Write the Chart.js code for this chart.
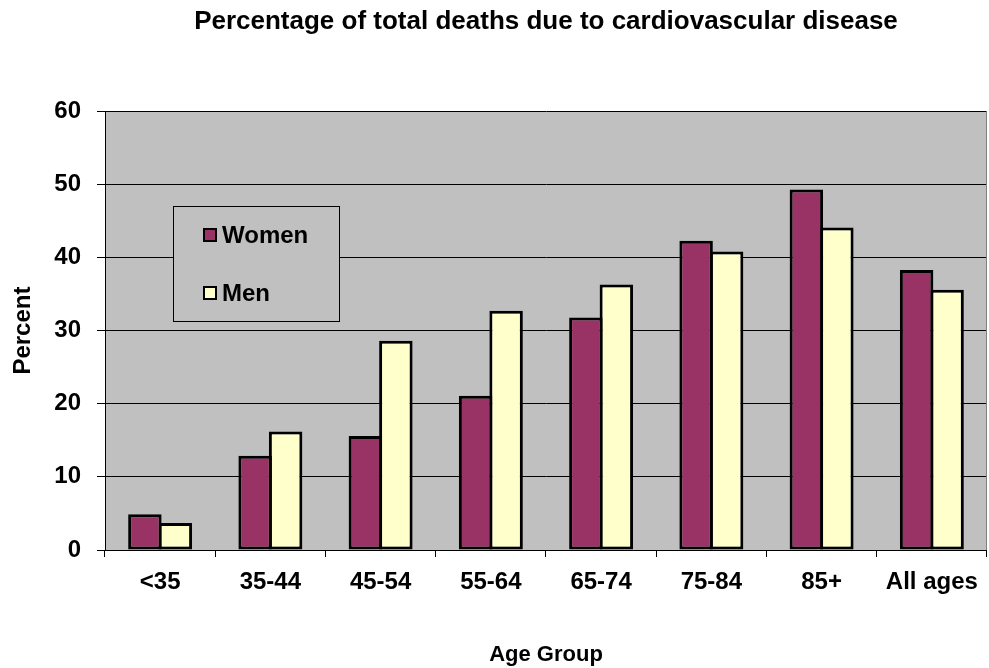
<!DOCTYPE html>
<html>
<head>
<meta charset="utf-8">
<script src="https://cdn.jsdelivr.net/npm/chart.js@4/dist/chart.umd.min.js"></script>
<style>
html,body{margin:0;padding:0;background:#fff;}
#wrap{width:989px;height:668px;position:relative;}
</style>
</head>
<body>
<div id="wrap"><canvas id="c" width="989" height="668"></canvas></div>
<script>
const categories = ['<35', '35-44', '45-54', '55-64', '65-74', '75-84', '85+', 'All ages'];
const women = [4.9, 12.9, 15.6, 21.1, 31.8, 42.3, 49.3, 38.3];
const men = [3.7, 16.2, 28.6, 32.7, 36.3, 40.8, 44.1, 35.6];
const seriesNames = ['Women', 'Men'];
const titleText = 'Percentage of total deaths due to cardiovascular disease';
const xTitle = 'Age Group';
const yTitle = 'Percent';

const FONT = 'Arial, "Liberation Sans", sans-serif';

const plotBg = {
  id: 'plotBg',
  beforeDraw(chart) {
    const {ctx, chartArea: a} = chart;
    ctx.save();
    ctx.fillStyle = '#C0C0C0';
    ctx.fillRect(a.left, a.top, a.right - a.left, a.bottom - a.top);
    ctx.restore();
  },
  afterDatasetsDraw(chart) {
    const {ctx, chartArea: a} = chart;
    ctx.save();
    ctx.strokeStyle = '#808080';
    ctx.lineWidth = 1;
    ctx.beginPath();
    ctx.moveTo(a.right - 0.5, a.top);
    ctx.lineTo(a.right - 0.5, a.bottom);
    ctx.stroke();
    ctx.restore();
  }
};

const boxLegend = {
  id: 'boxLegend',
  afterDraw(chart) {
    const ctx = chart.ctx;
    const x0 = 173, y0 = 206, w = 166, h = 115;
    ctx.save();
    ctx.fillStyle = '#C0C0C0';
    ctx.fillRect(x0, y0, w, h);
    ctx.strokeStyle = '#000';
    ctx.lineWidth = 1;
    ctx.strokeRect(x0 + 0.5, y0 + 0.5, w, h);
    const rows = [235, 293];
    chart.data.datasets.forEach((ds, i) => {
      const cy = rows[i];
      ctx.fillStyle = ds.backgroundColor;
      ctx.fillRect(204, cy - 6, 12, 12);
      ctx.strokeStyle = '#000';
      ctx.lineWidth = 2;
      ctx.strokeRect(204, cy - 6, 12, 12);
      ctx.fillStyle = '#000';
      ctx.font = 'bold 24px ' + FONT;
      ctx.textBaseline = 'middle';
      ctx.textAlign = 'left';
      ctx.fillText(ds.label, 222, cy + 1);
    });
    ctx.restore();
  }
};

new Chart(document.getElementById('c'), {
  type: 'bar',
  data: {
    labels: categories,
    datasets: [
      {label: seriesNames[0], data: women, backgroundColor: '#993366', borderColor: '#000', borderWidth: 3, borderSkipped: false},
      {label: seriesNames[1], data: men, backgroundColor: '#FFFFCC', borderColor: '#000', borderWidth: 3, borderSkipped: false}
    ]
  },
  options: {
    responsive: false,
    animation: false,
    layout: {padding: {left: 0, right: 1, top: 0, bottom: 0}},
    datasets: {bar: {categoryPercentage: 0.553, barPercentage: 1.098}},
    plugins: {
      legend: {display: false},
      tooltip: {enabled: false},
      title: {
        display: true,
        fullSize: false,
        text: titleText,
        color: '#000',
        font: {family: FONT, size: 26, weight: 'bold'},
        padding: {top: 6, bottom: 74}
      }
    },
    scales: {
      x: {
        afterFit(s) { s.height = 118; },
        grid: {display: true, drawOnChartArea: false, drawTicks: true, tickLength: 7, color: '#000', offset: true},
        border: {display: true, color: '#000', width: 1},
        ticks: {color: '#000', font: {family: FONT, size: 24, weight: 'bold'}, padding: 11, maxRotation: 0, autoSkip: false},
        title: {display: true, text: xTitle, color: '#000', font: {family: FONT, size: 22, weight: 'bold'}, padding: {top: 0, bottom: 0}}
      },
      y: {
        min: 0, max: 60,
        afterFit(s) { s.width = 105; },
        grid: {color: '#000', lineWidth: 1, tickLength: 8, tickColor: '#000'},
        border: {display: true, color: '#000', width: 1},
        ticks: {stepSize: 10, color: '#000', font: {family: FONT, size: 24, weight: 'bold'}, padding: 16},
        title: {display: true, text: yTitle, color: '#000', font: {family: FONT, size: 24, weight: 'bold'}, padding: {top: 9, bottom: 0}}
      }
    }
  },
  plugins: [plotBg, boxLegend]
});
</script>
</body>
</html>
